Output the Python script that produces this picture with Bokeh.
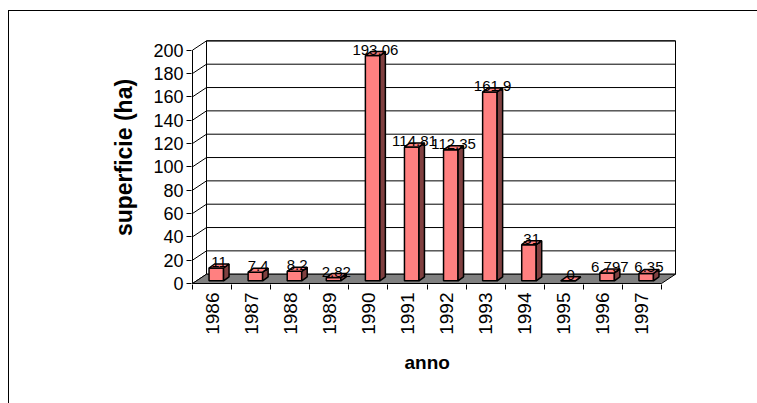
import math
from bokeh.plotting import figure
from bokeh.models import FixedTicker, Range1d, Title
from bokeh.core.properties import value
from bokeh.embed import file_html
from bokeh.resources import INLINE

# ---- data -------------------------------------------------------------
anni = ["1986", "1987", "1988", "1989", "1990", "1991",
        "1992", "1993", "1994", "1995", "1996", "1997"]
superficie = [11, 7.4, 8.2, 2.82, 193.06, 114.81, 112.35, 161.9, 31, 0, 6.797, 6.35]
etichette = ["11", "7.4", "8.2", "2.82", "193.06", "114.81",
             "112.35", "161.9", "31", "0", "6.797", "6.35"]
y_ticks = [0, 20, 40, 60, 80, 100, 120, 140, 160, 180, 200]

# ---- geometry (pixels) ------------------------------------------------
FONT = "Liberation Sans"
PX_X = 469 / 12          # pixels per category
PX_Y = 233.33 / 200      # pixels per hectare
WALL_DX, WALL_DY = 14, 9.3   # depth of the 3-D box
BAR_W = 14.5
BAR_DX, BAR_DY = 5.5, 4.0    # depth of each column

FRAME_W, FRAME_H = 499, 254
CANVAS_W, CANVAS_H = 748, 392
LEFT, TOP = 182, 19

ux = lambda px: px / PX_X
uy = lambda px: px / PX_Y

n = len(anni)
x0, x1 = -0.5, n - 0.5
y_top = y_ticks[-1]
DX, DY = ux(WALL_DX), uy(WALL_DY)
BW, BDX, BDY = ux(BAR_W), ux(BAR_DX), uy(BAR_DY)
FOX = ux((WALL_DX - BAR_DX) / 2)
FOY = uy((WALL_DY - BAR_DY) / 2)

xs0 = x0 - ux(1)
ys0 = -uy(1)
p = figure(
    frame_width=FRAME_W, frame_height=FRAME_H,
    min_border_left=LEFT, min_border_top=TOP,
    min_border_right=CANVAS_W - LEFT - FRAME_W,
    min_border_bottom=CANVAS_H - TOP - FRAME_H,
    x_range=Range1d(xs0, xs0 + ux(FRAME_W)),
    y_range=Range1d(ys0, ys0 + uy(FRAME_H)),
    output_backend="svg", toolbar_location=None,
    margin=(10, 0, 0, 8),
    styles={"border-left": "1px solid #000", "border-top": "1px solid #000",
            "box-sizing": "content-box"},
)
p.outline_line_color = None
p.grid.visible = False
p.background_fill_color = "white"
p.border_fill_color = "white"

# ---- axes -------------------------------------------------------------
xa = p.xaxis[0]
xa.ticker = FixedTicker(ticks=list(range(n)),
                        minor_ticks=[i - 0.5 for i in range(n + 1)])
xa.major_label_overrides = {i: a for i, a in enumerate(anni)}
xa.major_label_orientation = math.pi / 2
xa.major_tick_line_color = None
xa.major_tick_out = 5
xa.major_tick_in = 0
xa.minor_tick_out = 5
xa.minor_tick_in = 0
xa.minor_tick_line_color = "black"
xa.axis_line_color = None
xa.major_label_standoff = 3
xa.major_label_text_font = FONT
xa.major_label_text_font_size = "19px"
xa.major_label_text_color = "black"

ya = p.yaxis[0]
ya.ticker = FixedTicker(ticks=y_ticks, minor_ticks=[])
ya.major_tick_out = 5
ya.major_tick_in = 0
ya.major_tick_line_color = "black"
ya.axis_line_color = None
ya.major_label_standoff = 3
ya.major_label_text_font = FONT
ya.major_label_text_font_size = "18px"
ya.major_label_text_color = "black"
ya.axis_label = "superficie (ha)"
ya.axis_label_text_font = FONT
ya.axis_label_text_font_style = "bold"
ya.axis_label_text_font_size = "23px"
ya.axis_label_text_color = "black"
ya.axis_label_standoff = 13

p.add_layout(Title(text="anno", align="left", offset=213, standoff=24,
                   text_font=FONT, text_font_style="bold",
                   text_font_size="19px", text_color="black"), "below")

# ---- 3-D box: back wall, side wall, floor -----------------------------
p.quad(left=[x0 + DX], right=[x1 + DX], bottom=[DY], top=[y_top + DY],
       fill_color="white", line_color="black", line_width=1)
p.segment(x0=[x0 + DX] * (len(y_ticks) - 1), y0=[v + DY for v in y_ticks[1:]],
          x1=[x1 + DX] * (len(y_ticks) - 1), y1=[v + DY for v in y_ticks[1:]],
          line_color="black", line_width=1)
p.segment(x0=[x0] * len(y_ticks), y0=y_ticks,
          x1=[x0 + DX] * len(y_ticks), y1=[v + DY for v in y_ticks],
          line_color="black", line_width=1)
p.segment(x0=[x0], y0=[0], x1=[x0], y1=[y_top], line_color="black", line_width=1)
p.patch(x=[x0, x1, x1 + DX, x0 + DX], y=[0, 0, DY, DY],
        fill_color="#808080", line_color="black", line_width=1)

# ---- columns ----------------------------------------------------------
fl = [i - BW / 2 + FOX for i in range(n)]
fr = [i + BW / 2 + FOX for i in range(n)]
fb = [FOY] * n
ft = [FOY + v for v in superficie]

p.quad(left=fl, right=fr, bottom=fb, top=ft,
       fill_color="#ff8080", line_color="black", line_width=1.5)
p.patches(xs=[[r, r + BDX, r + BDX, r] for r in fr],
          ys=[[b, b + BDY, t + BDY, t] for b, t in zip(fb, ft)],
          fill_color="#804040", line_color="black", line_width=1.5)
p.patches(xs=[[l, r, r + BDX, l + BDX] for l, r in zip(fl, fr)],
          ys=[[t, t, t + BDY, t + BDY] for t in ft],
          fill_color="#ff8080", line_color="black", line_width=1.5)

# ---- value labels -----------------------------------------------------
p.text(x=[(l + r) / 2 + BDX / 2 for l, r in zip(fl, fr)], y=ft, text=etichette,
       text_align="center", text_baseline="alphabetic", y_offset=-6,
       text_font=value(FONT), text_font_size="15px", text_color="black")

open("out.html", "w").write(file_html(p, INLINE))
